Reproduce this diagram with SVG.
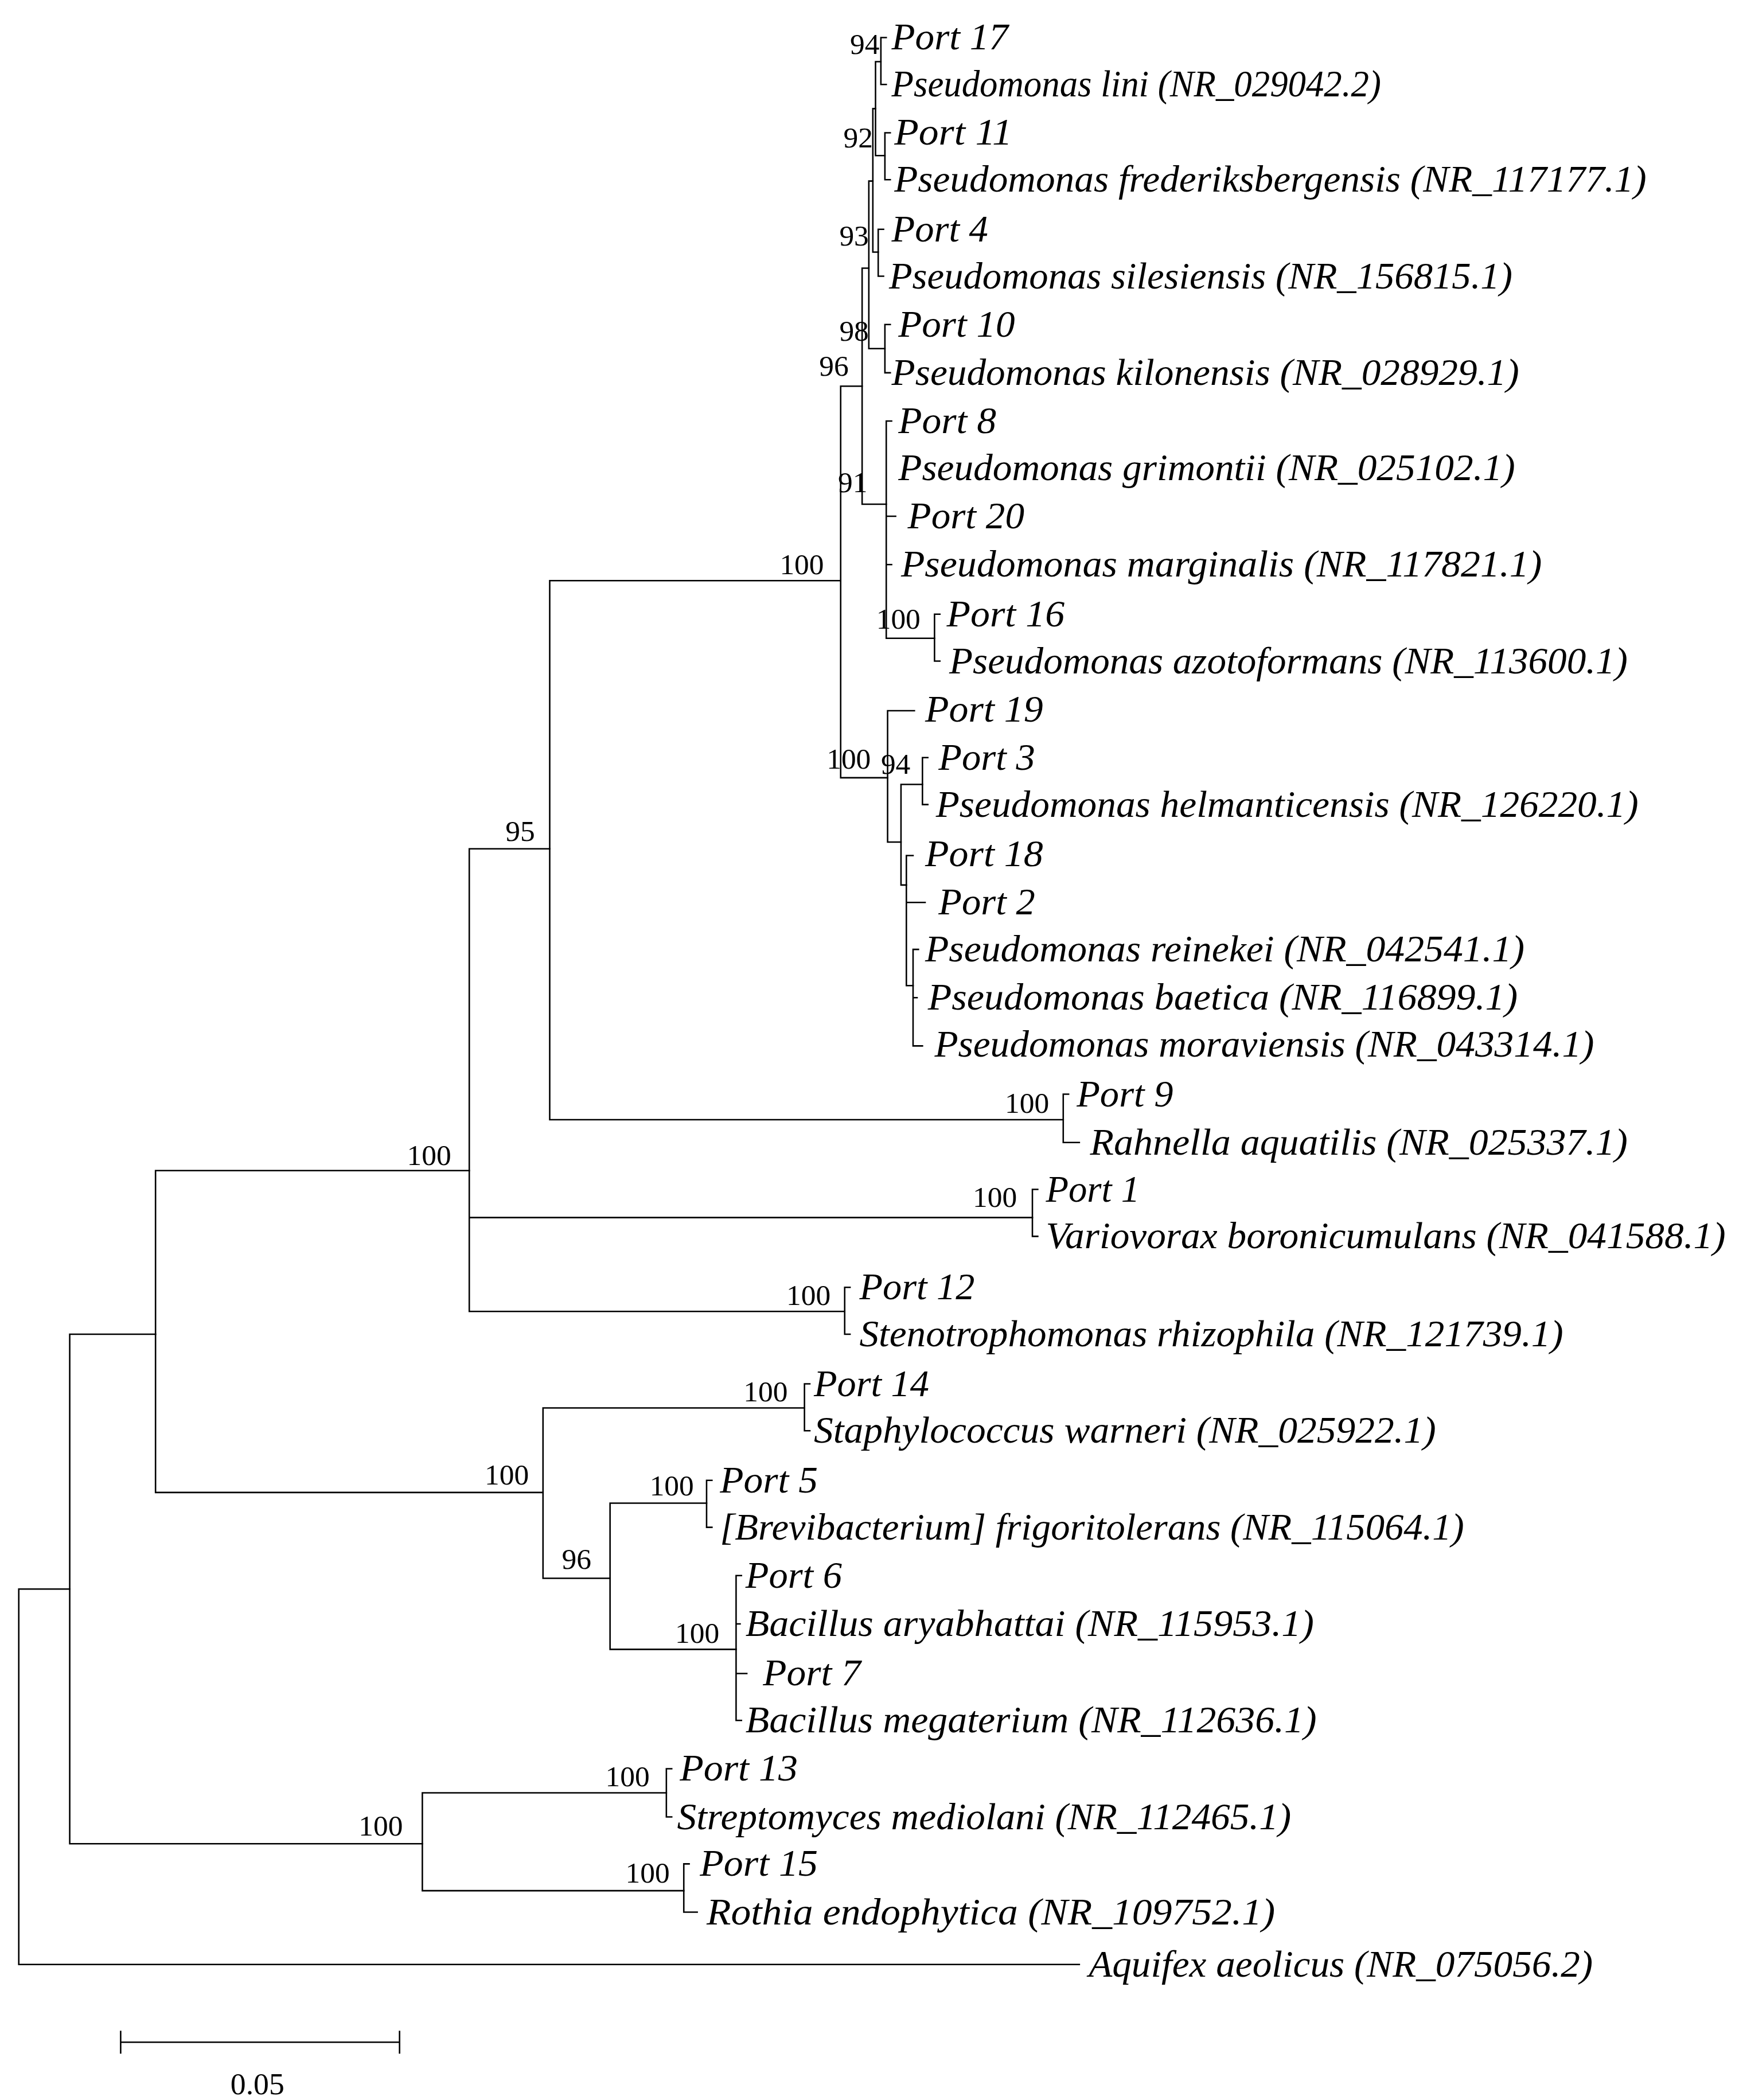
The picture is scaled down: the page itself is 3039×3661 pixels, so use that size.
<svg xmlns="http://www.w3.org/2000/svg" width="3039" height="3661" viewBox="0 0 3039 3661">
<style>
.l{fill:none;stroke:#000;stroke-width:1.1;stroke-linecap:square}
.t{font-family:"Liberation Serif",serif;font-style:italic;font-size:28px;fill:#000}
.b{font-family:"Liberation Serif",serif;font-size:22px;fill:#000;text-anchor:middle}
</style>
<rect width="3039" height="3661" fill="#fff"/>
<g transform="scale(2.3377)">
<g id="connectors" class="l">
<path d="M14 1185V1465M14 1465H805M14 1185H52"/>
<path d="M52 995V1375M52 995H116M52 1375H315"/>
<path d="M116 873V1113M116 873H350M116 1113H405"/>
<path d="M350 633V978M350 633H410M350 908H770M350 978H630"/>
<path d="M410 433V835M410 433H627M410 835H793"/>
<path d="M793 816V852M793 816H797M793 852H805"/>
<path d="M770 887V922M770 887H774M770 922H774"/>
<path d="M630 960V995M630 960H634M630 995H634"/>
<path d="M627 288V580M627 288H643M627 580H662"/>
<path d="M643 200V376M643 376H661M643 200H648"/>
<path d="M648 135V260M648 135H651M648 260H660"/>
<path d="M660 242V278M660 242H664M660 278H664"/>
<path d="M651 81V188M651 81H653M651 188H655"/>
<path d="M655 171V206M655 171H659M655 206H659"/>
<path d="M653 46V116M653 46H657M653 116H660"/>
<path d="M657 28V63M657 28H661M657 63H661"/>
<path d="M660 99V134M660 99H664M660 134H664"/>
<path d="M661 314V476M661 314H665M661 385H668M661 421H665M661 476H697"/>
<path d="M697 458V493M697 458H701M697 493H701"/>
<path d="M662 530V628M662 530H682M662 628H672"/>
<path d="M672 585V660M672 585H688M672 660H676"/>
<path d="M688 565V600M688 565H692M688 600H692"/>
<path d="M676 638V735M676 638H681M676 673H690M676 735H681"/>
<path d="M681 708V780M681 708H685M681 744H684M681 780H688"/>
<path d="M405 1050V1177M405 1050H600M405 1177H455"/>
<path d="M600 1032V1067M600 1032H604M600 1067H604"/>
<path d="M455 1121V1230M455 1121H527M455 1230H549"/>
<path d="M527 1104V1139M527 1104H531M527 1139H531"/>
<path d="M549 1175V1283M549 1175H553M549 1211H552M549 1248H557M549 1283H553"/>
<path d="M315 1337V1410M315 1337H497M315 1410H510"/>
<path d="M497 1319V1355M497 1319H501M497 1355H501"/>
<path d="M510 1390V1426M510 1390H514M510 1426H520"/>
<path d="M90 1523H298M90 1515V1531M298 1515V1531"/>
</g>
<g id="leaves" class="t">
<text id="n1" x="665" y="37" textLength="87" lengthAdjust="spacingAndGlyphs">Port 17</text>
<text id="n2" x="665" y="72" textLength="365" lengthAdjust="spacingAndGlyphs">Pseudomonas lini (NR_029042.2)</text>
<text id="n3" x="667" y="108" textLength="88" lengthAdjust="spacingAndGlyphs">Port 11</text>
<text id="n4" x="667" y="143" textLength="561" lengthAdjust="spacingAndGlyphs">Pseudomonas frederiksbergensis (NR_117177.1)</text>
<text id="n5" x="665" y="180" textLength="72" lengthAdjust="spacingAndGlyphs">Port 4</text>
<text id="n6" x="663" y="215" textLength="465" lengthAdjust="spacingAndGlyphs">Pseudomonas silesiensis (NR_156815.1)</text>
<text id="n7" x="670" y="251" textLength="87" lengthAdjust="spacingAndGlyphs">Port 10</text>
<text id="n8" x="665" y="287" textLength="468" lengthAdjust="spacingAndGlyphs">Pseudomonas kilonensis (NR_028929.1)</text>
<text id="n9" x="670" y="323" textLength="73" lengthAdjust="spacingAndGlyphs">Port 8</text>
<text id="n10" x="670" y="358" textLength="460" lengthAdjust="spacingAndGlyphs">Pseudomonas grimontii (NR_025102.1)</text>
<text id="n11" x="677" y="394" textLength="87" lengthAdjust="spacingAndGlyphs">Port 20</text>
<text id="n12" x="672" y="430" textLength="478" lengthAdjust="spacingAndGlyphs">Pseudomonas marginalis (NR_117821.1)</text>
<text id="n13" x="706" y="467" textLength="88" lengthAdjust="spacingAndGlyphs">Port 16</text>
<text id="n14" x="708" y="502" textLength="506" lengthAdjust="spacingAndGlyphs">Pseudomonas azotoformans (NR_113600.1)</text>
<text id="n15" x="690" y="538" textLength="88" lengthAdjust="spacingAndGlyphs">Port 19</text>
<text id="n16" x="700" y="574" textLength="72" lengthAdjust="spacingAndGlyphs">Port 3</text>
<text id="n17" x="698" y="609" textLength="524" lengthAdjust="spacingAndGlyphs">Pseudomonas helmanticensis (NR_126220.1)</text>
<text id="n18" x="690" y="646" textLength="88" lengthAdjust="spacingAndGlyphs">Port 18</text>
<text id="n19" x="700" y="682" textLength="72" lengthAdjust="spacingAndGlyphs">Port 2</text>
<text id="n20" x="690" y="717" textLength="447" lengthAdjust="spacingAndGlyphs">Pseudomonas reinekei (NR_042541.1)</text>
<text id="n21" x="692" y="753" textLength="440" lengthAdjust="spacingAndGlyphs">Pseudomonas baetica (NR_116899.1)</text>
<text id="n22" x="697" y="788" textLength="492" lengthAdjust="spacingAndGlyphs">Pseudomonas moraviensis (NR_043314.1)</text>
<text id="n23" x="803" y="825" textLength="72" lengthAdjust="spacingAndGlyphs">Port 9</text>
<text id="n24" x="813" y="861" textLength="401" lengthAdjust="spacingAndGlyphs">Rahnella aquatilis (NR_025337.1)</text>
<text id="n25" x="780" y="896" textLength="70" lengthAdjust="spacingAndGlyphs">Port 1</text>
<text id="n26" x="780" y="931" textLength="507" lengthAdjust="spacingAndGlyphs">Variovorax boronicumulans (NR_041588.1)</text>
<text id="n27" x="641" y="969" textLength="86" lengthAdjust="spacingAndGlyphs">Port 12</text>
<text id="n28" x="641" y="1004" textLength="525" lengthAdjust="spacingAndGlyphs">Stenotrophomonas rhizophila (NR_121739.1)</text>
<text id="n29" x="607" y="1041" textLength="86" lengthAdjust="spacingAndGlyphs">Port 14</text>
<text id="n30" x="607" y="1076" textLength="464" lengthAdjust="spacingAndGlyphs">Staphylococcus warneri (NR_025922.1)</text>
<text id="n31" x="537" y="1113" textLength="73" lengthAdjust="spacingAndGlyphs">Port 5</text>
<text id="n32" x="537" y="1148" textLength="555" lengthAdjust="spacingAndGlyphs">[Brevibacterium] frigoritolerans (NR_115064.1)</text>
<text id="n33" x="556" y="1184" textLength="72" lengthAdjust="spacingAndGlyphs">Port 6</text>
<text id="n34" x="556" y="1220" textLength="424" lengthAdjust="spacingAndGlyphs">Bacillus aryabhattai (NR_115953.1)</text>
<text id="n35" x="569" y="1257" textLength="73" lengthAdjust="spacingAndGlyphs">Port 7</text>
<text id="n36" x="556" y="1292" textLength="426" lengthAdjust="spacingAndGlyphs">Bacillus megaterium (NR_112636.1)</text>
<text id="n37" x="507" y="1328" textLength="88" lengthAdjust="spacingAndGlyphs">Port 13</text>
<text id="n38" x="505" y="1364" textLength="458" lengthAdjust="spacingAndGlyphs">Streptomyces mediolani (NR_112465.1)</text>
<text id="n39" x="522" y="1399" textLength="88" lengthAdjust="spacingAndGlyphs">Port 15</text>
<text id="n40" x="527" y="1435" textLength="424" lengthAdjust="spacingAndGlyphs">Rothia endophytica (NR_109752.1)</text>
<text id="n41" x="812" y="1474" textLength="376" lengthAdjust="spacingAndGlyphs">Aquifex aeolicus (NR_075056.2)</text>
</g>
<g id="bootstrap" class="b">
<text x="645" y="40">94</text>
<text x="640" y="110">92</text>
<text x="637" y="183">93</text>
<text x="637" y="254">98</text>
<text x="622" y="280">96</text>
<text x="636" y="367">91</text>
<text x="598" y="428">100</text>
<text x="670" y="469">100</text>
<text x="633" y="573">100</text>
<text x="668" y="577">94</text>
<text x="388" y="627">95</text>
<text x="766" y="830">100</text>
<text x="742" y="900">100</text>
<text x="320" y="869">100</text>
<text x="603" y="973">100</text>
<text x="571" y="1045">100</text>
<text x="378" y="1107">100</text>
<text x="501" y="1115">100</text>
<text x="430" y="1170">96</text>
<text x="520" y="1225">100</text>
<text x="468" y="1332">100</text>
<text x="284" y="1369">100</text>
<text x="483" y="1404">100</text>
<text x="192" y="1562" style="font-size:23px">0.05</text>
</g>
</g>
</svg>
